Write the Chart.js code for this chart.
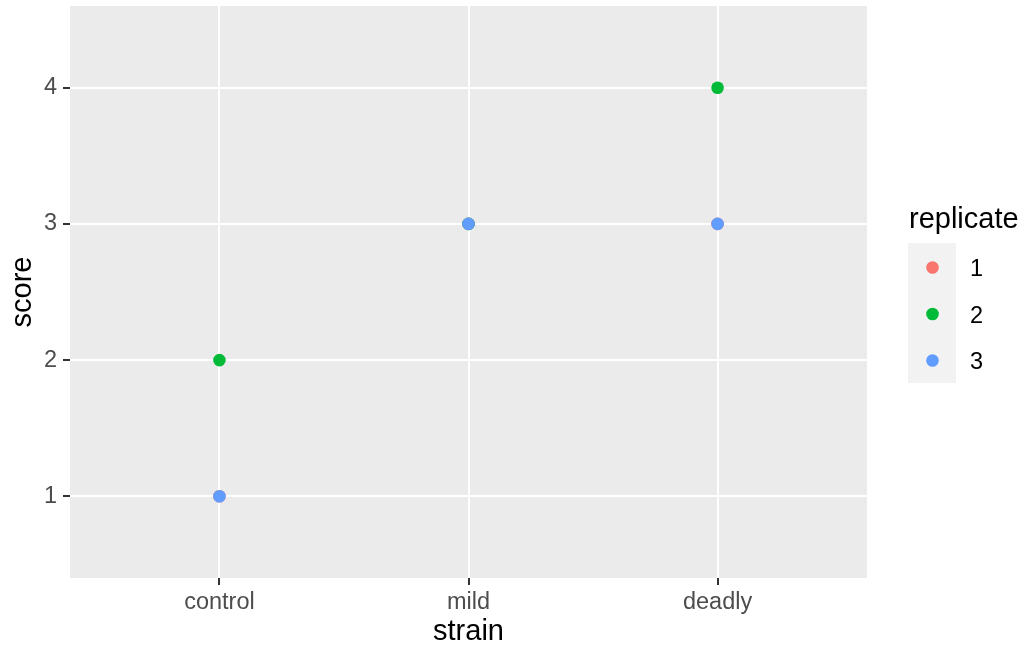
<!DOCTYPE html>
<html>
<head>
<meta charset="utf-8">
<script src="https://cdn.jsdelivr.net/npm/chart.js@4/dist/chart.umd.min.js"></script>
<style>
  html, body { margin: 0; padding: 0; background: #fff; }
  #wrap { width: 1025px; height: 649px; }
</style>
</head>
<body>
<div id="wrap"><canvas id="myChart" width="1025" height="649"></canvas></div>
<script>
const strains = ['control', 'mild', 'deadly']
const scoreTicks = [1, 2, 3, 4]
const replicates = ['1', '2', '3']
// score per strain, one array per replicate (replicate 1 is hidden under the others)
const rep1 = [1, 3, 3]
const rep2 = [2, 3, 4]
const rep3 = [1, 3, 3]
const colors = ['#F8766D', '#00BA38', '#619CFF']

const FONT = 'Liberation Sans, Arial, sans-serif'

// later replicates are drawn on top, like ggplot
const series = [rep1, rep2, rep3].map((vals, i) => ({
  label: replicates[i],
  data: vals.map((v, j) => ({ x: j + 1, y: v })),
  backgroundColor: colors[i],
  borderWidth: 0,
  pointRadius: 6.3,
  pointHoverRadius: 6.3,
  order: 2 - i
}))

const panelBg = {
  id: 'panelBg',
  beforeDraw (chart) {
    const { ctx, chartArea: a } = chart
    ctx.save()
    ctx.fillStyle = '#EBEBEB'
    ctx.fillRect(a.left, a.top, a.right - a.left, a.bottom - a.top)
    ctx.restore()
  }
}

const ggLegend = {
  id: 'ggLegend',
  afterDraw (chart) {
    const { ctx } = chart
    ctx.save()
    ctx.fillStyle = '#000'
    ctx.font = '29px ' + FONT
    ctx.textBaseline = 'alphabetic'
    ctx.textAlign = 'left'
    ctx.fillText('replicate', 909, 228)
    ctx.fillStyle = '#F2F2F2'
    ctx.fillRect(908, 243, 48, 140)
    ctx.font = '23.5px ' + FONT
    replicates.forEach((r, i) => {
      const y = 267.5 + i * 46.5
      ctx.fillStyle = colors[i]
      ctx.beginPath()
      ctx.arc(932.5, y, 6.3, 0, Math.PI * 2)
      ctx.fill()
      ctx.fillStyle = '#000'
      ctx.fillText(r, 970, y + 8.5)
    })
    ctx.restore()
  }
}

// drop the label overhang padding so the panel fills the space like ggplot
const noOverhang = s => {
  s.paddingTop = 0
  s.paddingBottom = 0
  s.paddingLeft = 0
  s.paddingRight = 0
}

new Chart(document.getElementById('myChart'), {
  type: 'scatter',
  data: { datasets: series },
  options: {
    responsive: false,
    animation: false,
    layout: { autoPadding: false, padding: { left: 0, top: 6, right: 158, bottom: 0 } },
    plugins: {
      legend: { display: false },
      tooltip: { enabled: false }
    },
    scales: {
      x: {
        type: 'linear',
        min: 0.4,
        max: 3.6,
        afterBuildTicks: s => { s.ticks = strains.map((c, i) => ({ value: i + 1 })) },
        afterFit: s => { s.height = 71; noOverhang(s) },
        ticks: {
          callback: v => strains[v - 1],
          color: '#4D4D4D',
          font: { family: FONT, size: 23.5 },
          padding: 3,
          maxRotation: 0
        },
        grid: { color: '#FFFFFF', lineWidth: 2, tickColor: '#333333', tickWidth: 2, tickLength: 7 },
        border: { display: false },
        title: { display: true, text: 'strain', color: '#000', font: { family: FONT, size: 29 }, padding: { top: 0, bottom: 0 } }
      },
      y: {
        type: 'linear',
        min: 0.4,
        max: 4.6,
        afterBuildTicks: s => { s.ticks = scoreTicks.map(v => ({ value: v })) },
        afterFit: s => { s.width = 70; noOverhang(s) },
        ticks: {
          color: '#4D4D4D',
          font: { family: FONT, size: 23.5 },
          padding: 6
        },
        grid: { color: '#FFFFFF', lineWidth: 2, tickColor: '#333333', tickWidth: 2, tickLength: 7 },
        border: { display: false },
        title: { display: true, text: 'score', color: '#000', font: { family: FONT, size: 29 }, padding: { top: 6, bottom: 0 } }
      }
    }
  },
  plugins: [panelBg, ggLegend]
})
</script>
</body>
</html>
